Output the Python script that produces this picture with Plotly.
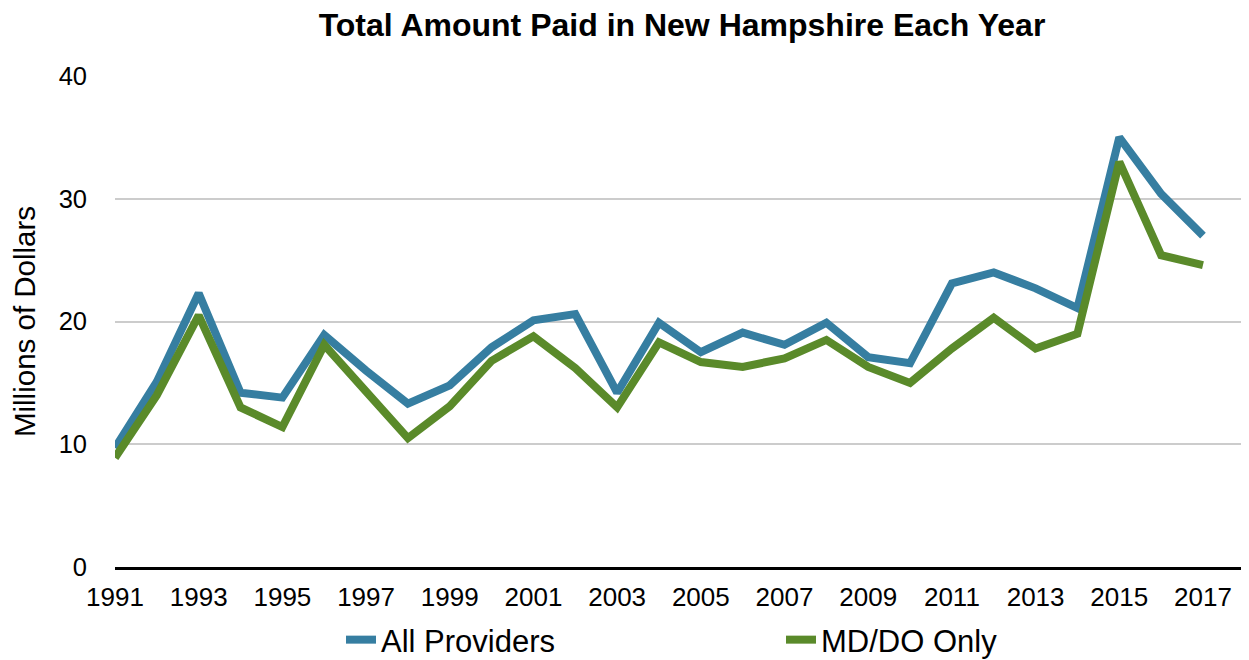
import plotly.graph_objects as go

years = list(range(1991, 2018))
all_providers = [9.7, 15.1, 22.3, 14.2, 13.8, 18.9, 16.0, 13.3, 14.8, 17.9,
                 20.1, 20.6, 14.2, 19.9, 17.5, 19.1, 18.1, 19.9, 17.1, 16.6,
                 23.1, 24.0, 22.7, 21.1, 35.0, 30.4, 27.0]
md_do_only = [8.9, 14.0, 20.5, 13.0, 11.4, 18.1, 14.3, 10.5, 13.1, 16.8,
              18.8, 16.2, 13.0, 18.3, 16.7, 16.3, 17.0, 18.5, 16.3, 15.0,
              17.8, 20.3, 17.8, 19.0, 33.0, 25.4, 24.6]
tick_years = list(range(1991, 2018, 2))
y_ticks = [0, 10, 20, 30, 40]

BLUE = "#367EA1"
GREEN = "#5A8A2A"
FONT = "Liberation Sans, Arial, Helvetica, sans-serif"

W, H = 1241, 652  # page body has an 8px margin

fig = go.Figure()
fig.add_trace(go.Scatter(x=years, y=all_providers, mode="lines", name="All Providers",
                         line=dict(color=BLUE, width=8)))
fig.add_trace(go.Scatter(x=years, y=md_do_only, mode="lines", name="MD/DO Only",
                         line=dict(color=GREEN, width=8)))

fig.update_layout(
    width=W, height=H,
    margin=dict(l=107, r=0, t=68, b=93, autoexpand=False),
    plot_bgcolor="white", paper_bgcolor="white",
    font=dict(family=FONT, color="black", size=24),
    title=dict(text="<b>Total Amount Paid in New Hampshire Each Year</b>",
               xref="paper", x=0.5, xanchor="center",
               yref="container", y=1 - 17 / H, yanchor="middle",
               font=dict(size=32, family=FONT, color="black")),
    showlegend=True,
    legend=dict(orientation="h", xref="container", x=333 / W, xanchor="left",
                yref="container", y=(H - 632) / H, yanchor="middle",
                font=dict(size=31, family=FONT), entrywidth=395, entrywidthmode="pixels",
                itemwidth=30, bgcolor="rgba(0,0,0,0)", borderwidth=0),
)
fig.update_xaxes(
    range=[1991, 2018.1], tickvals=tick_years, ticktext=[str(y) for y in tick_years],
    showgrid=False, zeroline=False, showline=True, linecolor="black", linewidth=3,
    ticks="", tickfont=dict(size=26, family=FONT), ticklabelstandoff=5,
)
fig.update_yaxes(
    range=[0, 40], tickvals=y_ticks, showgrid=True, gridcolor="#CCCCCC", gridwidth=1.5,
    zeroline=False, showline=False, ticks="", tickfont=dict(size=25.5, family=FONT),
    ticklabelstandoff=27,
    title=dict(text="Millions of Dollars", font=dict(size=29.5, family=FONT), standoff=18),
)

fig.write_html("out.html")
